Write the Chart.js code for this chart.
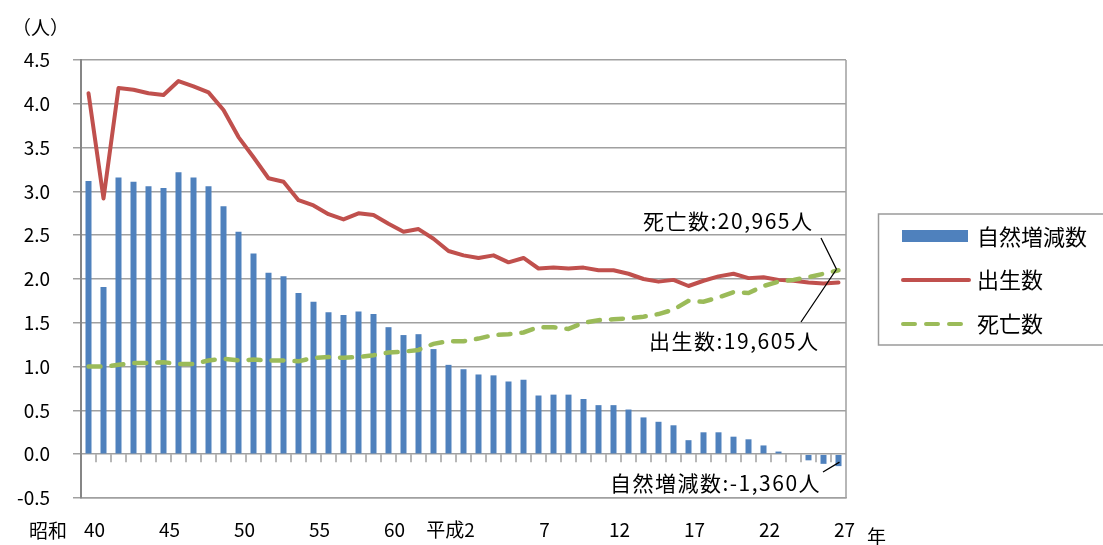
<!DOCTYPE html>
<html>
<head>
<meta charset="utf-8">
<script src="https://cdn.jsdelivr.net/npm/chart.js@4"></script>
<style>
html, body { margin: 0; padding: 0; background: #fff; }
</style>
</head>
<body>
<canvas id="myChart" width="1103" height="545"></canvas>
<script>
// 年 (昭和40年 ~ 平成27年)
var categories = ['40','41','42','43','44','45','46','47','48','49',
  '50','51','52','53','54','55','56','57','58','59',
  '60','61','62','63','平成元','平成2','3','4','5','6',
  '7','8','9','10','11','12','13','14','15','16',
  '17','18','19','20','21','22','23','24','25','26','27'];

// 自然増減数 (万人)
var natural = [3.12,1.91,3.16,3.11,3.06,3.04,3.22,3.16,3.06,2.83,
  2.54,2.29,2.07,2.03,1.84,1.74,1.62,1.59,1.63,1.60,
  1.45,1.36,1.37,1.20,1.02,0.97,0.91,0.90,0.83,0.85,
  0.67,0.68,0.68,0.63,0.56,0.56,0.51,0.42,0.37,0.33,
  0.16,0.25,0.25,0.20,0.17,0.10,0.03,0.00,-0.07,-0.11,-0.136];

// 出生数
var births = [4.12,2.92,4.18,4.16,4.12,4.10,4.26,4.20,4.13,3.93,
  3.62,3.39,3.15,3.11,2.90,2.84,2.74,2.68,2.75,2.73,
  2.63,2.54,2.57,2.46,2.32,2.27,2.24,2.27,2.19,2.24,
  2.12,2.13,2.12,2.13,2.10,2.10,2.06,2.00,1.97,1.99,
  1.92,1.98,2.03,2.06,2.01,2.02,1.99,1.98,1.96,1.95,1.96];

// 死亡数
var deaths = [1.00,1.00,1.02,1.04,1.04,1.05,1.03,1.03,1.07,1.09,
  1.07,1.08,1.07,1.07,1.06,1.10,1.11,1.10,1.11,1.13,
  1.16,1.17,1.19,1.26,1.29,1.29,1.32,1.36,1.37,1.39,
  1.45,1.45,1.43,1.50,1.53,1.54,1.55,1.57,1.60,1.65,
  1.75,1.74,1.79,1.85,1.84,1.92,1.97,1.99,2.02,2.06,2.10];

var yTicks = { min: -0.5, max: 4.5, step: 0.5 };

var FONT = "'Noto Sans CJK JP', 'Noto Sans', sans-serif";
var GRID = '#a0a0a0';
var BLUE = '#4F81BD', RED = '#C0504D', GREEN = '#9BBB59';

var decor = {
  id: 'decor',
  beforeDatasetsDraw: function (chart) {
    var c = chart.ctx, a = chart.chartArea;
    var xs = chart.scales.x, ys = chart.scales.y;
    var y0 = ys.getPixelForValue(0);
    c.save();
    c.strokeStyle = GRID;
    c.lineWidth = 1.5;
    c.beginPath();
    for (var i = 1; i < categories.length; i++) {
      var bx = (xs.getPixelForValue(i - 1) + xs.getPixelForValue(i)) / 2;
      c.moveTo(bx, y0);
      c.lineTo(bx, y0 + 8);
    }
    c.moveTo(a.right, a.top);
    c.lineTo(a.right, a.bottom);
    c.stroke();
    c.restore();
  },
  afterDraw: function (chart) {
    var c = chart.ctx;
    c.save();
    c.fillStyle = '#000';
    c.textBaseline = 'middle';

    // units / era / year
    c.font = '19px ' + FONT;
    c.textAlign = 'left';
    c.fillText('（人）', 12, 28);
    c.fillText('昭和', 29, 531);
    c.fillText('年', 867, 537);

    // callouts
    var last = categories.length - 1;
    var gEnd = chart.getDatasetMeta(0).data[last];
    var bEnd = chart.getDatasetMeta(2).data[last];
    c.font = '21px ' + FONT;
    c.letterSpacing = '1.5px';
    c.fillText('死亡数:20,965人', 643, 221);
    c.fillText('出生数:19,605人', 649, 341);
    c.fillText('自然増減数:-1,360人', 610, 483);
    c.letterSpacing = '0px';
    c.strokeStyle = '#000';
    c.lineWidth = 1.3;
    c.beginPath();
    c.moveTo(821, 238); c.lineTo(gEnd.x - 2, gEnd.y - 1);
    c.moveTo(801, 322); c.lineTo(gEnd.x - 2, gEnd.y - 1);
    c.moveTo(823, 472); c.lineTo(bEnd.x + 1, bEnd.y - 4);
    c.stroke();

    // legend
    c.strokeStyle = '#9a9a9a';
    c.lineWidth = 1.5;
    c.strokeRect(878.5, 214, 240, 131);
    var ds = chart.data.datasets;
    c.font = '22px ' + FONT;
    c.fillStyle = ds[2].backgroundColor;
    c.fillRect(902, 230, 66, 12);
    c.lineCap = 'round';
    c.lineWidth = 4;
    c.strokeStyle = ds[1].borderColor;
    c.beginPath(); c.moveTo(903, 280); c.lineTo(969, 280); c.stroke();
    c.strokeStyle = ds[0].borderColor;
    c.setLineDash(ds[0].borderDash);
    c.beginPath(); c.moveTo(903, 324); c.lineTo(969, 324); c.stroke();
    c.setLineDash([]);
    c.fillStyle = '#000';
    c.fillText(ds[2].label, 977, 237);
    c.fillText(ds[1].label, 977, 280);
    c.fillText(ds[0].label, 977, 324);
    c.restore();
  }
};

var ctx = document.getElementById('myChart').getContext('2d');
var chart = new Chart(ctx, {
  type: 'bar',
  data: {
    labels: categories,
    datasets: [{
      type: 'line',
      label: '死亡数',
      data: deaths,
      borderColor: GREEN,
      borderWidth: 4.5,
      borderDash: [12, 11],
      borderCapStyle: 'round',
      pointRadius: 0,
      tension: 0,
      order: 1
    }, {
      type: 'line',
      label: '出生数',
      data: births,
      borderColor: RED,
      borderWidth: 4,
      borderCapStyle: 'round',
      borderJoinStyle: 'round',
      pointRadius: 0,
      tension: 0,
      order: 2
    }, {
      type: 'bar',
      label: '自然増減数',
      data: natural,
      backgroundColor: BLUE,
      barPercentage: 0.4,
      categoryPercentage: 1,
      order: 3
    }]
  },
  options: {
    responsive: false,
    animation: false,
    layout: { padding: { top: 60, right: 257, bottom: 0, left: 0 } },
    plugins: { legend: { display: false }, tooltip: { enabled: false } },
    scales: {
      x: {
        grid: { display: false },
        border: { display: true, color: GRID, width: 1.5 },
        ticks: {
          autoSkip: false,
          maxRotation: 0,
          labelOffset: 6,
          padding: 12,
          color: '#000',
          font: { family: FONT, size: 19 },
          callback: function (v, i) {
            if (i % 5 !== 0) return '';
            var t = categories[i];
            // Excel set the 平成 label a little to the left
            return t.indexOf('平成') === 0 ? t + '\u3000\u3000' : t;
          }
        },
        afterFit: function (s) { s.height = 47; }
      },
      y: {
        min: yTicks.min,
        max: yTicks.max,
        ticks: {
          stepSize: yTicks.step,
          padding: 23,
          color: '#000',
          font: { family: FONT, size: 19 },
          callback: function (v) { return v.toFixed(1); }
        },
        grid: { color: GRID, lineWidth: 1.5, tickLength: 8, tickColor: GRID },
        border: { color: '#868686', width: 2 },
        afterFit: function (s) { s.width = 81; }
      }
    }
  },
  plugins: [decor]
});
</script>
</body>
</html>
